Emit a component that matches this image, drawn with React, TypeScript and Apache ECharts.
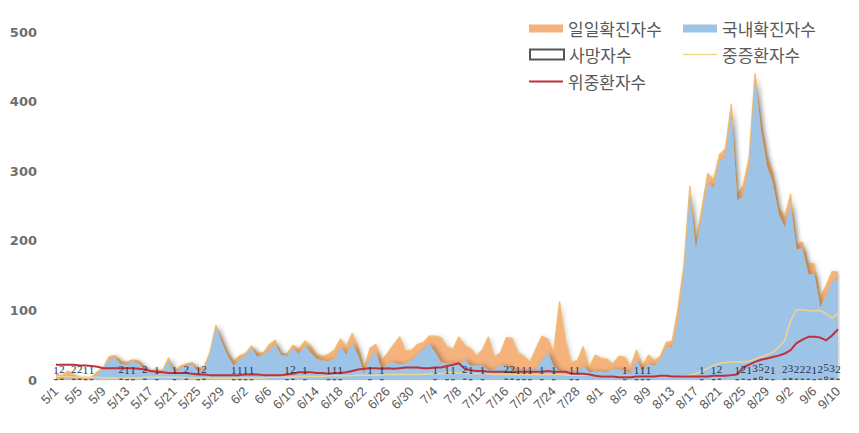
import React, { useEffect, useRef } from "react";
import * as echarts from "echarts";

// Dates 5/1 .. 9/10
const monthSpans: [number, number][] = [[5, 31], [6, 30], [7, 31], [8, 31], [9, 10]];
const dates: string[] = [];
monthSpans.forEach(([m, n]) => {
  for (let d = 1; d <= n; d++) dates.push(`${m}/${d}`);
});

const yTicks = [0, 100, 200, 300, 400, 500];

// 일일확진자수 (daily confirmed)
const dailyTotal = [
  9, 6, 13, 8, 3, 2, 4, 12, 18, 34, 35, 27, 26, 29, 27, 19, 13, 15, 13, 32, 12, 20, 23, 25, 16, 19, 40, 79, 58, 39, 27,
  35, 38, 49, 39, 39, 51, 57, 38, 38, 50, 45, 56, 49, 37, 34, 37, 43, 59, 49, 67, 48, 17, 46, 51, 28, 39, 51, 62, 42, 43,
  51, 54, 63, 63, 61, 48, 44, 62, 50, 45, 35, 44, 62, 33, 39, 61, 60, 39, 34, 26, 45, 63, 59, 41, 113, 58, 25, 28, 48, 18, 36,
  31, 30, 23, 34, 33, 20, 43, 20, 36, 28, 34, 54, 56, 103, 166, 279, 197, 246, 297, 288, 324, 332, 397, 266, 280, 320, 441, 371, 323, 299, 248,
  235, 267, 195, 198, 168, 167, 119, 136, 156, 155,
];

// 국내확진자수 (domestic)
const domestic = [
  2, 1, 3, 2, 1, 0, 1, 8, 17, 29, 32, 22, 22, 27, 23, 15, 10, 12, 11, 28, 10, 17, 20, 22, 12, 14, 38, 76, 54, 34, 20,
  30, 35, 46, 33, 36, 43, 51, 36, 34, 45, 38, 49, 39, 30, 28, 27, 30, 47, 37, 52, 36, 9, 30, 41, 13, 24, 25, 22, 24, 28,
  36, 44, 52, 40, 25, 24, 24, 23, 29, 20, 21, 20, 14, 15, 21, 20, 14, 11, 12, 12, 15, 28, 39, 20, 12, 10, 9, 12, 20, 11, 12,
  12, 11, 15, 15, 13, 9, 29, 12, 23, 20, 28, 47, 47, 85, 155, 267, 188, 235, 283, 276, 315, 320, 387, 258, 264, 307, 434, 359, 308, 283, 238,
  220, 253, 188, 189, 152, 152, 105, 120, 142, 144,
];

// 중증환자수 (severe)
const severe = [
  5, 5, 5, 4, 4, 4, 4, 4, 3, 3, 3, 3, 3, 3, 3, 4, 4, 4, 4, 4, 4, 4, 3, 3, 3, 3, 3, 3, 3, 3, 3,
  3, 3, 3, 3, 3, 4, 4, 4, 4, 4, 5, 5, 5, 5, 5, 6, 6, 6, 6, 6, 7, 7, 7, 7, 7, 8, 8, 8, 8, 8,
  8, 8, 9, 9, 9, 10, 10, 10, 10, 9, 9, 9, 9, 8, 8, 8, 8, 8, 8, 8, 8, 8, 8, 8, 8, 7, 7, 7, 7, 7, 6,
  6, 6, 5, 5, 5, 5, 5, 5, 5, 5, 5, 5, 5, 5, 6, 7, 9, 12, 17, 21, 24, 25, 26, 26, 26, 27, 30, 33, 36, 40, 47,
  57, 85, 101, 101, 100, 99, 100, 95, 89, 96,
];

// 위중환자수 (critical)
const critical = [
  22, 22, 22, 22, 21, 21, 20, 19, 17, 17, 17, 17, 17, 17, 16, 15, 13, 12, 11, 10, 10, 10, 10, 9, 8, 8, 7, 7, 7, 7, 7,
  7, 8, 8, 8, 7, 7, 7, 7, 8, 9, 11, 11, 11, 10, 10, 9, 10, 10, 11, 13, 15, 16, 17, 17, 16, 17, 16, 17, 18, 18,
  18, 17, 17, 18, 18, 20, 22, 24, 16, 14, 13, 13, 12, 12, 12, 12, 11, 12, 12, 12, 12, 12, 13, 12, 12, 12, 9, 9, 9, 8, 6,
  5, 5, 5, 4, 4, 4, 5, 5, 5, 5, 6, 6, 5, 5, 5, 5, 5, 5, 5, 6, 6, 6, 7, 8, 18, 22, 26, 29, 31, 33, 35,
  38, 43, 53, 58, 62, 62, 61, 57, 64, 73,
];

// 사망자수 (deaths) — day index from 5/1 and count
const deathDayIndex = [
  0, 1, 3, 4, 5, 6, 11, 12, 13, 15, 17, 20, 22, 24, 25, 30, 31, 32, 33, 39, 40, 42, 46, 47, 48, 53, 55,
  64, 66, 67, 69, 70, 72, 76, 77, 78, 79, 80, 82, 84, 87, 88, 96, 98, 99, 100, 109, 111, 112,
  115, 116, 117, 118, 119, 120, 121, 123, 124, 125, 126, 127, 128, 129, 130, 131, 132,
];
const deathCount = [
  1, 2, 2, 2, 1, 1, 2, 1, 1, 2, 1, 1, 2, 1, 2, 1, 1, 1, 1, 1, 2, 1, 1, 1, 1, 1, 1,
  1, 1, 1, 2, 1, 1, 2, 2, 1, 1, 1, 1, 1, 1, 1, 1, 1, 1, 1, 1, 1, 2,
  1, 2, 1, 3, 5, 2, 1, 2, 3, 2, 2, 2, 1, 2, 5, 3, 2,
];

const NAMES = ["일일확진자수", "국내확진자수", "사망자수", "중증환자수", "위중환자수"];

export default function App() {
  const ref = useRef<HTMLDivElement>(null);
  useEffect(() => {
    if (!ref.current) return;
    const chart = echarts.init(ref.current, undefined, { renderer: "svg" });
    const deaths: (number | null)[] = dates.map(() => null);
    deathDayIndex.forEach((d, i) => (deaths[d] = deathCount[i]));

    const legendText = { fontSize: 17, color: "#595959", fontFamily: "Noto Sans CJK KR" };
    const mkLegend = (name: string, left: number, top: number, extra: any = {}) => ({
      data: [name],
      left,
      top,
      padding: 0,
      itemWidth: 34,
      itemHeight: 8,
      icon: "rect",
      textStyle: legendText,
      selectedMode: false,
      ...extra,
    });

    chart.setOption({
      animation: false,
      backgroundColor: "#ffffff",
      grid: { left: 56, right: 21, top: 32, bottom: 53, containLabel: false },
      legend: [
        mkLegend(NAMES[0], 529, 20),
        mkLegend(NAMES[1], 683, 20),
        mkLegend(NAMES[2], 529, 46, { itemHeight: 10 }),
        mkLegend(NAMES[3], 683, 46, { itemHeight: 1.5 }),
        mkLegend(NAMES[4], 529, 73, { itemHeight: 2 }),
      ],
      xAxis: {
        type: "category",
        data: dates,
        boundaryGap: false,
        axisLine: { show: false },
        axisTick: { show: false },
        axisLabel: {
          interval: 3,
          rotate: 45,
          margin: 9,
          fontSize: 13,
          color: "#595959",
          fontFamily: "Liberation Sans",
        },
        splitLine: { show: false },
      },
      yAxis: {
        type: "value",
        min: yTicks[0],
        max: yTicks[yTicks.length - 1],
        interval: 100,
        axisLine: { show: false },
        axisTick: { show: false },
        splitLine: { show: false },
        axisLabel: {
          margin: 19,
          fontSize: 13,
          fontWeight: "bold",
          color: "#6e6e6e",
          fontFamily: "DejaVu Sans",
        },
      },
      series: [
        {
          name: NAMES[0],
          type: "line",
          data: dailyTotal,
          symbol: "none",
          lineStyle: { width: 1.2, color: "#F2BE6E" },
          itemStyle: { color: "#F5B27C" },
          areaStyle: {
            color: "#F5B27C",
            opacity: 1,
            shadowColor: "rgba(0,0,0,0.18)",
            shadowBlur: 4,
            shadowOffsetX: 2,
          },
          z: 1,
        },
        {
          name: NAMES[1],
          type: "line",
          data: domestic,
          symbol: "none",
          lineStyle: { width: 0, color: "#9DC3E6" },
          itemStyle: { color: "#9DC3E6" },
          areaStyle: {
            color: "#9DC3E6",
            opacity: 1,
            shadowColor: "rgba(0,0,0,0.3)",
            shadowBlur: 5,
            shadowOffsetX: 3,
          },
          z: 2,
        },
        {
          name: NAMES[2],
          type: "bar",
          data: deaths,
          barWidth: 4,
          itemStyle: { color: "rgba(255,255,255,0)", borderColor: "#555555", borderWidth: 1 },
          label: {
            show: true,
            position: "top",
            distance: 4,
            fontSize: 11,
            color: "#2a2f3f",
            fontFamily: "Liberation Serif",
          },
          z: 5,
        },
        {
          name: NAMES[3],
          type: "line",
          data: severe,
          symbol: "none",
          lineStyle: { width: 1.5, color: "#EFD68A" },
          itemStyle: { color: "#EFD68A" },
          z: 3,
        },
        {
          name: NAMES[4],
          type: "line",
          data: critical,
          symbol: "none",
          lineStyle: { width: 2, color: "#C0303A" },
          itemStyle: { color: "#C0303A" },
          z: 4,
        },
      ],
    });
    return () => chart.dispose();
  }, []);
  return (
    <div
      ref={ref}
      style={{ position: "fixed", left: 0, top: 0, width: 859, height: 433, background: "#fff" }}
    />
  );
}
